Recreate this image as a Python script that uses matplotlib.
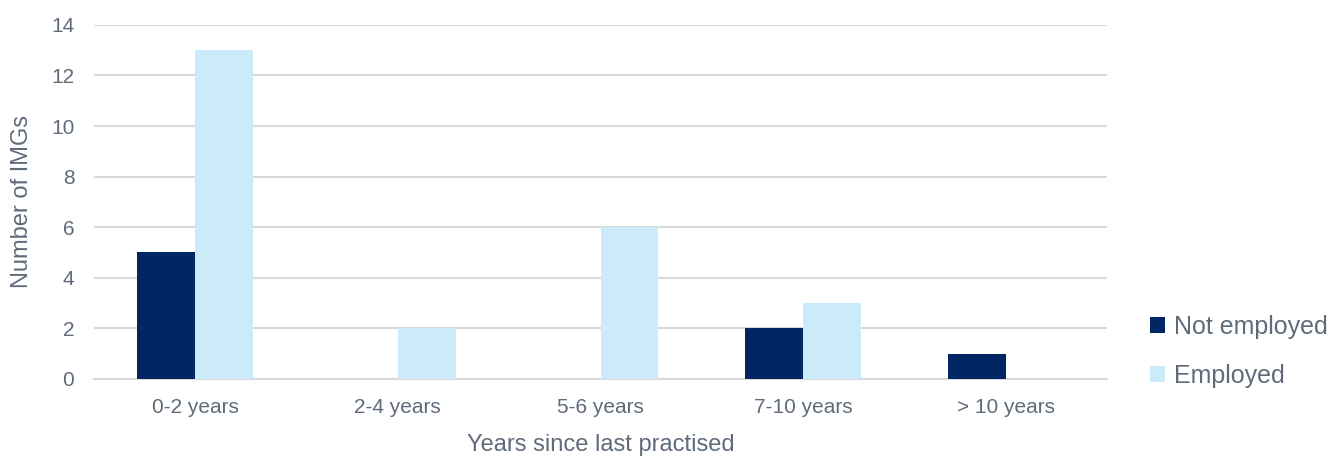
import matplotlib
matplotlib.use("Agg")
import matplotlib.pyplot as plt
import numpy as np

plt.rcParams['font.family'] = ['Liberation Sans', 'DejaVu Sans']

categories = ['0-2 years', '2-4 years', '5-6 years', '7-10 years', '> 10 years']
not_employed = [5, 0, 0, 2, 1]
employed = [13, 2, 6, 3, 0]

dark = '#002664'
light = '#CCEBFA'
text_col = '#5F6B7A'
grid_col = '#D9D9D9'

fig = plt.figure(figsize=(13.39, 4.61), dpi=100)
ax = fig.add_axes([0.070, 0.178, 0.757, 0.768])

x = np.arange(len(categories))
w = 0.285
ax.bar(x - w / 2, not_employed, w, color=dark, label='Not employed', zorder=3)
ax.bar(x + w / 2, employed, w, color=light, label='Employed', zorder=3)

ax.set_xlim(-0.5, len(categories) - 0.5)
ax.set_ylim(0, 14)
ax.set_yticks(range(0, 15, 2))
ax.yaxis.grid(True, color=grid_col, linewidth=1.5, zorder=0)
ax.set_axisbelow(True)
for s in ['top', 'right', 'left']:
    ax.spines[s].set_visible(False)
ax.spines['bottom'].set_color(grid_col)
ax.spines['bottom'].set_linewidth(1.5)

ax.set_xticks(x)
ax.set_xticklabels(categories)
ax.tick_params(axis='both', length=0, labelsize=15, colors=text_col)
ax.tick_params(axis='x', pad=14)
ax.tick_params(axis='y', pad=14)

ax.set_xlabel('Years since last practised', fontsize=17, color=text_col, labelpad=12)
ax.set_ylabel('Number of IMGs', fontsize=17, color=text_col, labelpad=13)

leg = ax.legend(loc='center left', bbox_to_anchor=(1.02, 0.078), frameon=False,
                fontsize=18, handlelength=0.6, handleheight=0.6, handletextpad=0.35,
                labelspacing=1.0, labelcolor=text_col)

fig.savefig('out.png', dpi=100)
